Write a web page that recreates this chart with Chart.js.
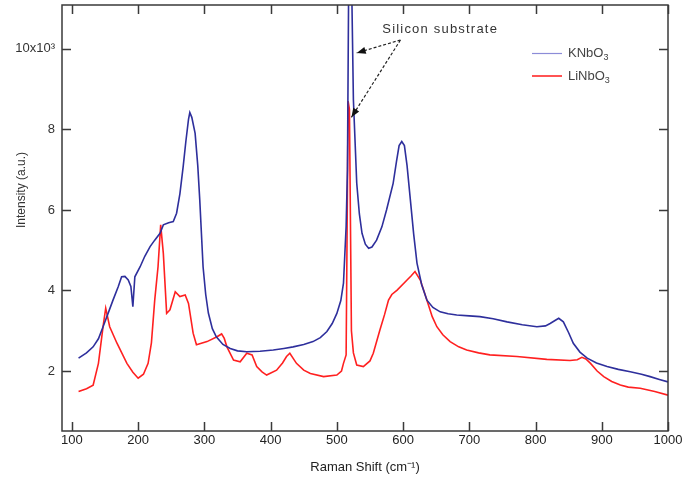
<!DOCTYPE html>
<html>
<head>
<meta charset="utf-8">
<script src="https://cdn.jsdelivr.net/npm/chart.js@4.4.1/dist/chart.umd.min.js"></script>
<style>
  html, body { margin: 0; padding: 0; background: #fff; }
  #wrap { width: 685px; height: 479px; }
</style>
</head>
<body>
<div id="wrap"><canvas id="chart"></canvas></div>
<script>
// =======================
// DATA
// =======================

const knbX = [110, 122, 132, 140, 147, 155, 162, 170, 175, 180, 185, 189, 192, 195, 203, 210, 218, 225, 233, 238, 246, 253, 258,
  263, 268, 272, 276, 278, 281, 286, 290, 293, 298, 302, 306, 312,
  318, 328, 339, 350, 364, 384, 404, 420, 434, 450, 464, 475, 485, 493, 500, 506, 510, 514, 516, 518, 522, 525, 530, 534, 538, 543, 548, 553, 560, 568, 575, 585,
  590, 594, 598, 602, 606, 611, 616, 621, 628, 636, 645, 656, 668, 681, 700, 716, 736, 757, 780, 802, 815, 822, 830, 835, 842, 850, 857, 867, 878, 892, 908, 925, 943, 960, 973, 987, 1000];
const knbY = [2.32, 2.45, 2.60, 2.80, 3.10, 3.45, 3.76, 4.10, 4.34, 4.35, 4.26, 4.10, 3.60, 4.34, 4.59, 4.85, 5.09, 5.25, 5.42, 5.63, 5.68, 5.71, 5.92,
  6.40, 7.08, 7.70, 8.25, 8.42, 8.30, 7.90, 7.10, 6.25, 4.59, 3.90, 3.44, 3.05,
  2.85, 2.66, 2.56, 2.50, 2.48, 2.49, 2.52, 2.56, 2.60, 2.66, 2.73, 2.83, 2.98, 3.18, 3.43, 3.75, 4.18, 5.59, 7.0, 12.0, 12.0, 8.73, 6.67, 5.90, 5.42, 5.15, 5.05, 5.08, 5.25, 5.58, 6.00, 6.66,
  7.20, 7.60, 7.70, 7.60, 7.10, 6.25, 5.40, 4.68, 4.15, 3.76, 3.58, 3.47, 3.42, 3.39, 3.37, 3.35, 3.30, 3.22, 3.15, 3.10, 3.12, 3.18, 3.26, 3.31, 3.22, 2.95, 2.69, 2.47, 2.32, 2.20, 2.11, 2.04, 1.98, 1.92, 1.86, 1.79, 1.73];

const linbX = [110, 122, 132, 140, 147, 151, 157, 168, 183, 192, 200, 208, 215, 220, 225, 230, 234, 238, 243, 248, 256, 263, 271, 276,
  283, 288, 304, 319, 326, 330, 334, 344, 354, 364, 372, 379, 387, 394, 409, 418, 424, 429, 439, 450, 460, 480, 500, 507, 510,
  514, 517, 519, 522, 525, 530, 540, 550, 555, 565, 572, 578, 583, 591, 606, 612, 618, 626, 636, 644, 651, 660, 671, 684, 696, 714, 731, 772,
  817, 852, 863, 870, 876, 883, 893, 903, 915, 928, 940, 958, 980, 1000];
const linbY = [1.49, 1.56, 1.65, 2.19, 3.10, 3.56, 3.10, 2.69, 2.19, 1.97, 1.82, 1.92, 2.19, 2.70, 3.76, 4.59, 5.63, 4.92, 3.43, 3.52, 3.97, 3.85, 3.89, 3.68,
  2.94, 2.65, 2.73, 2.85, 2.92, 2.81, 2.60, 2.27, 2.23, 2.44, 2.40, 2.11, 1.98, 1.90, 2.02, 2.20, 2.36, 2.44, 2.19, 2.02, 1.94, 1.86, 1.90, 2.00, 2.19,
  2.40, 8.70, 8.50, 3.00, 2.45, 2.15, 2.11, 2.25, 2.44, 3.02, 3.40, 3.76, 3.90, 4.01, 4.26, 4.36, 4.47, 4.26, 3.76, 3.35, 3.10, 2.90, 2.73, 2.60, 2.52, 2.45, 2.40, 2.36,
  2.29, 2.26, 2.28, 2.34, 2.30, 2.19, 2.00, 1.86, 1.74, 1.65, 1.60, 1.57, 1.49, 1.40];

const xTicks = [100, 200, 300, 400, 500, 600, 700, 800, 900, 1000];
const yTicks = [2, 4, 6, 8, 10];
const yTickLabels = ["2", "4", "6", "8", "10x10³"];

const xMin = 85, xMax = 1000, yMin = 0.51, yMax = 11.09;

// =======================
// PLUGIN: frame, inward ticks, labels, legend, annotation
// =======================

const decorPlugin = {
  id: "decor",
  afterDraw(c) {
    const ctx = c.ctx;
    const a = c.chartArea;
    const xs = c.scales.x, ys = c.scales.y;
    ctx.save();

    // frame
    ctx.strokeStyle = "#3a3a3a";
    ctx.lineWidth = 1.5;
    ctx.strokeRect(a.left, a.top, a.right - a.left, a.bottom - a.top);

    // inward ticks
    ctx.lineWidth = 1.5;
    ctx.beginPath();
    xTicks.forEach(v => {
      const px = Math.round(xs.getPixelForValue(v)) + 0.5;
      ctx.moveTo(px, a.bottom); ctx.lineTo(px, a.bottom - 9);
      ctx.moveTo(px, a.top); ctx.lineTo(px, a.top + 9);
    });
    yTicks.forEach(v => {
      const py = Math.round(ys.getPixelForValue(v)) + 0.5;
      ctx.moveTo(a.left, py); ctx.lineTo(a.left + 9, py);
      ctx.moveTo(a.right, py); ctx.lineTo(a.right - 9, py);
    });
    ctx.stroke();

    // y title
    ctx.fillStyle = "#333";
    ctx.font = "12px 'Liberation Sans', Arial, sans-serif";
    ctx.textAlign = "center";
    ctx.textBaseline = "middle";
    ctx.save();
    ctx.translate(22, 190);
    ctx.rotate(-Math.PI / 2);
    ctx.fillText("Intensity (a.u.)", 0, 0);
    ctx.restore();

    // legend
    ctx.lineWidth = 1.2;
    ctx.strokeStyle = "#8c8cd8";
    ctx.beginPath(); ctx.moveTo(532, 53.5); ctx.lineTo(562, 53.5); ctx.stroke();
    ctx.lineWidth = 1.5;
    ctx.strokeStyle = "#ff1a1a";
    ctx.beginPath(); ctx.moveTo(532, 76); ctx.lineTo(562, 76); ctx.stroke();
    ctx.textAlign = "left";
    ctx.fillStyle = "#444";
    const sub = (txt, x, y) => {
      ctx.font = "13px 'Liberation Sans', Arial, sans-serif";
      ctx.fillText(txt, x, y);
      const w = ctx.measureText(txt).width;
      ctx.font = "9px 'Liberation Sans', Arial, sans-serif";
      ctx.fillText("3", x + w, y + 5);
    };
    sub("KNbO", 568, 53);
    sub("LiNbO", 568, 76);

    // annotation
    ctx.font = "13px 'Liberation Sans', Arial, sans-serif";
    ctx.letterSpacing = "1.2px";
    ctx.textAlign = "center";
    ctx.fillStyle = "#333";
    ctx.fillText("Silicon substrate", xs.getPixelForValue(656), ys.getPixelForValue(10.48));
    ctx.letterSpacing = "0px";

    const ox = xs.getPixelForValue(596), oy = ys.getPixelForValue(10.22);
    const arrow = (tx, ty) => {
      ctx.strokeStyle = "#222";
      ctx.lineWidth = 1.2;
      ctx.setLineDash([3, 2]);
      ctx.beginPath(); ctx.moveTo(ox, oy); ctx.lineTo(tx, ty); ctx.stroke();
      ctx.setLineDash([]);
      const ang = Math.atan2(ty - oy, tx - ox);
      ctx.fillStyle = "#111";
      ctx.beginPath();
      ctx.moveTo(tx, ty);
      ctx.lineTo(tx - 9 * Math.cos(ang) + 3.5 * Math.sin(ang), ty - 9 * Math.sin(ang) - 3.5 * Math.cos(ang));
      ctx.lineTo(tx - 9 * Math.cos(ang) - 3.5 * Math.sin(ang), ty - 9 * Math.sin(ang) + 3.5 * Math.cos(ang));
      ctx.closePath();
      ctx.fill();
    };
    arrow(xs.getPixelForValue(530), ys.getPixelForValue(9.9));
    arrow(xs.getPixelForValue(522), ys.getPixelForValue(8.3));

    ctx.restore();
  }
};

// =======================
// CHART
// =======================

const ctx = document.getElementById("chart").getContext("2d");

new Chart(ctx, {
  type: "line",
  data: {
    datasets: [
      {
        label: "KNbO3",
        data: knbX.map((x, i) => ({ x: x, y: knbY[i] })),
        borderColor: "#2e2f9c",
        borderWidth: 1.6,
        pointRadius: 0,
        tension: 0
      },
      {
        label: "LiNbO3",
        data: linbX.map((x, i) => ({ x: x, y: linbY[i] })),
        borderColor: "#ff2020",
        borderWidth: 1.6,
        pointRadius: 0,
        tension: 0
      }
    ]
  },
  options: {
    responsive: true,
    maintainAspectRatio: false,
    animation: false,
    layout: { padding: { top: 5, right: 17, left: 0, bottom: 0 } },
    plugins: { legend: { display: false }, tooltip: { enabled: false } },
    scales: {
      x: {
        type: "linear",
        min: xMin, max: xMax,
        afterBuildTicks: s => { s.ticks = xTicks.map(v => ({ value: v })); },
        afterFit: s => { s.height = 48; s.paddingLeft = 0; s.paddingRight = 0; },
        grid: { display: false, drawTicks: false },
        border: { display: false },
        ticks: {
          color: "#222", font: { size: 13, family: "'Liberation Sans', Arial, sans-serif" }, padding: 2, maxRotation: 0,
          callback: v => String(v)
        },
        title: {
          display: true, text: "Raman Shift (cm⁻¹)", color: "#222",
          font: { size: 13, family: "'Liberation Sans', Arial, sans-serif" }, padding: { top: 2 }
        }
      },
      y: {
        min: yMin, max: yMax,
        afterBuildTicks: s => { s.ticks = yTicks.map(v => ({ value: v })); },
        afterFit: s => { s.width = 62; s.paddingTop = 0; s.paddingBottom = 0; },
        grid: { display: false, drawTicks: false },
        border: { display: false },
        ticks: {
          color: "#333", padding: 7,
          font: { size: 13, family: "'Liberation Sans', Arial, sans-serif" },
          callback: (v) => yTickLabels[yTicks.indexOf(v)]
        }
      }
    }
  },
  plugins: [decorPlugin]
});
</script>
</body>
</html>
